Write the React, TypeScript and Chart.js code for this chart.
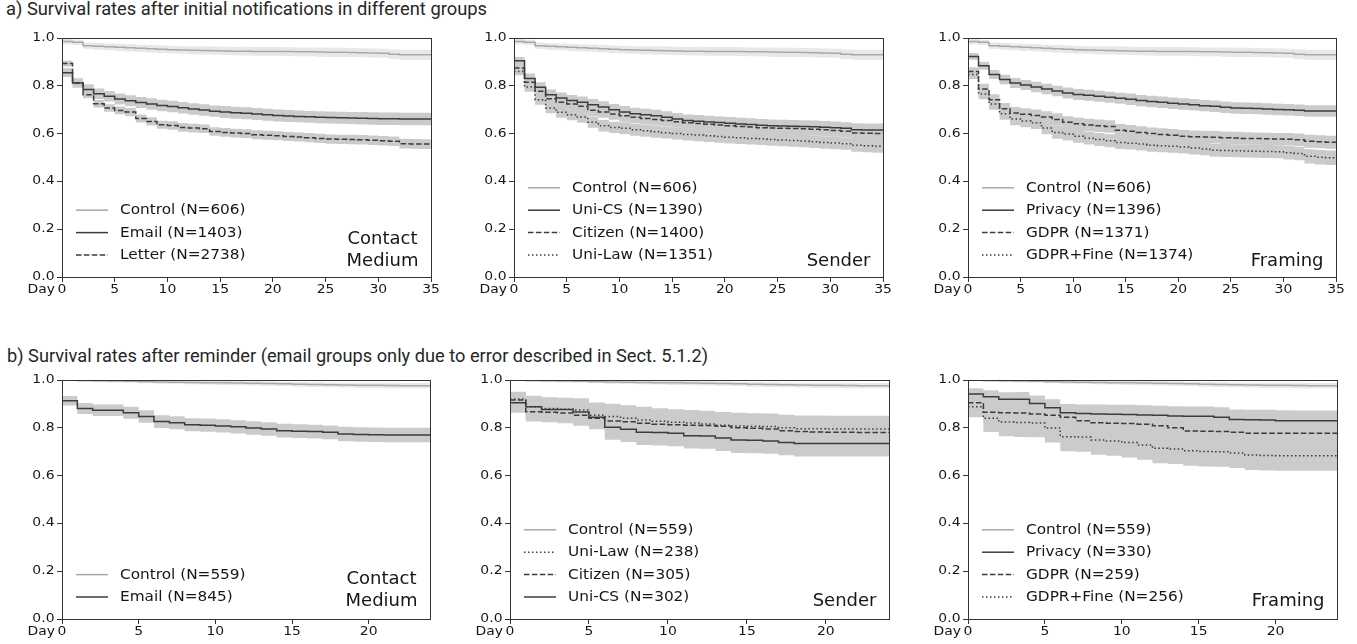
import React, { useEffect, useLayoutEffect, useRef } from "react";
import { Chart, registerables } from "chart.js";

Chart.register(...registerables);

// ---------------- data ----------------
const TITLE_A = "a) Survival rates after initial notifications in different groups";
const TITLE_B = "b) Survival rates after reminder (email groups only due to error described in Sect. 5.1.2)";

const DAYS_A = [0, 1, 2, 3, 4, 5, 6, 7, 8, 9, 10, 11, 12, 13, 14, 15, 16, 17, 18, 19, 20, 21, 22, 23, 24, 25, 26, 27, 28, 29, 30, 31, 32, 33, 34, 35];
const DAYS_B = [0, 1, 2, 3, 4, 5, 6, 7, 8, 9, 10, 11, 12, 13, 14, 15, 16, 17, 18, 19, 20, 21, 22, 23, 24];
const X_TICKS_A = [0, 5, 10, 15, 20, 25, 30, 35];
const X_TICKS_B = [0, 5, 10, 15, 20];
const Y_TICKS = [0, 0.2, 0.4, 0.6, 0.8, 1.0];
const X_UNIT = "Day";

// a) initial notifications (value per day, and half width of the confidence band)
const CONTROL_A = [0.985, 0.982, 0.968, 0.965, 0.963, 0.961, 0.959, 0.957, 0.955, 0.953, 0.951, 0.950, 0.949, 0.948, 0.947, 0.946, 0.945, 0.945, 0.944, 0.944, 0.944, 0.943, 0.942, 0.942, 0.941, 0.940, 0.940, 0.939, 0.938, 0.937, 0.936, 0.932, 0.930, 0.930, 0.930, 0.930];
const CI_CONTROL_A = [0.011, 0.011, 0.013, 0.014, 0.014, 0.015, 0.015, 0.015, 0.016, 0.016, 0.016, 0.016, 0.017, 0.017, 0.017, 0.017, 0.017, 0.018, 0.018, 0.018, 0.018, 0.018, 0.018, 0.018, 0.019, 0.019, 0.019, 0.019, 0.019, 0.019, 0.019, 0.020, 0.021, 0.021, 0.021, 0.021];

const EMAIL_A = [0.855, 0.812, 0.785, 0.767, 0.756, 0.745, 0.737, 0.730, 0.724, 0.718, 0.713, 0.708, 0.703, 0.699, 0.694, 0.690, 0.687, 0.685, 0.682, 0.679, 0.676, 0.674, 0.672, 0.670, 0.668, 0.667, 0.666, 0.665, 0.664, 0.663, 0.662, 0.662, 0.661, 0.661, 0.661, 0.661];
const CI_EMAIL_A = [0.018, 0.020, 0.021, 0.022, 0.022, 0.023, 0.023, 0.023, 0.024, 0.024, 0.024, 0.024, 0.024, 0.024, 0.024, 0.025, 0.025, 0.025, 0.025, 0.025, 0.025, 0.025, 0.025, 0.025, 0.025, 0.025, 0.025, 0.025, 0.026, 0.026, 0.026, 0.026, 0.026, 0.026, 0.026, 0.026];
const LETTER_A = [0.893, 0.812, 0.763, 0.725, 0.707, 0.697, 0.690, 0.663, 0.651, 0.637, 0.634, 0.626, 0.623, 0.620, 0.609, 0.605, 0.602, 0.600, 0.595, 0.593, 0.591, 0.588, 0.586, 0.583, 0.580, 0.577, 0.576, 0.575, 0.574, 0.572, 0.570, 0.568, 0.558, 0.557, 0.556, 0.556];
const CI_LETTER_A = [0.012, 0.014, 0.015, 0.016, 0.016, 0.016, 0.017, 0.017, 0.017, 0.017, 0.018, 0.018, 0.018, 0.018, 0.018, 0.018, 0.018, 0.018, 0.019, 0.019, 0.019, 0.019, 0.019, 0.019, 0.019, 0.019, 0.019, 0.020, 0.020, 0.020, 0.020, 0.020, 0.020, 0.020, 0.020, 0.020];

const UNICS_A = [0.905, 0.831, 0.794, 0.763, 0.749, 0.739, 0.731, 0.721, 0.711, 0.700, 0.690, 0.683, 0.679, 0.675, 0.668, 0.661, 0.655, 0.652, 0.649, 0.646, 0.643, 0.640, 0.638, 0.635, 0.633, 0.632, 0.631, 0.630, 0.629, 0.627, 0.625, 0.622, 0.616, 0.615, 0.615, 0.615];
const CITIZEN_A = [0.875, 0.815, 0.777, 0.746, 0.731, 0.724, 0.714, 0.698, 0.690, 0.682, 0.675, 0.668, 0.663, 0.659, 0.655, 0.650, 0.645, 0.642, 0.639, 0.636, 0.633, 0.630, 0.628, 0.625, 0.623, 0.622, 0.621, 0.620, 0.618, 0.616, 0.613, 0.610, 0.603, 0.601, 0.600, 0.600];
const UNILAW_A = [0.860, 0.795, 0.742, 0.707, 0.689, 0.679, 0.669, 0.648, 0.633, 0.626, 0.622, 0.616, 0.612, 0.608, 0.604, 0.600, 0.596, 0.594, 0.591, 0.588, 0.585, 0.583, 0.580, 0.578, 0.575, 0.573, 0.571, 0.569, 0.566, 0.563, 0.561, 0.558, 0.551, 0.549, 0.547, 0.547];
const CI_SENDER_A = [0.016, 0.020, 0.021, 0.022, 0.023, 0.023, 0.024, 0.024, 0.024, 0.024, 0.025, 0.025, 0.025, 0.025, 0.025, 0.025, 0.025, 0.026, 0.026, 0.026, 0.026, 0.026, 0.026, 0.026, 0.026, 0.026, 0.026, 0.026, 0.026, 0.026, 0.026, 0.026, 0.027, 0.027, 0.027, 0.027];

const PRIVACY_A = [0.923, 0.884, 0.847, 0.826, 0.812, 0.803, 0.795, 0.787, 0.778, 0.770, 0.764, 0.760, 0.756, 0.752, 0.748, 0.744, 0.738, 0.734, 0.731, 0.727, 0.724, 0.721, 0.717, 0.714, 0.710, 0.707, 0.706, 0.705, 0.703, 0.701, 0.700, 0.698, 0.695, 0.695, 0.695, 0.695];
const CI_PRIVACY_A = [0.014, 0.017, 0.019, 0.020, 0.021, 0.021, 0.022, 0.022, 0.022, 0.023, 0.023, 0.023, 0.023, 0.023, 0.023, 0.024, 0.024, 0.024, 0.024, 0.024, 0.024, 0.024, 0.024, 0.024, 0.024, 0.024, 0.024, 0.024, 0.024, 0.024, 0.024, 0.024, 0.024, 0.024, 0.024, 0.024];
const GDPR_A = [0.860, 0.787, 0.742, 0.704, 0.686, 0.681, 0.676, 0.669, 0.659, 0.647, 0.641, 0.636, 0.633, 0.630, 0.614, 0.610, 0.605, 0.600, 0.596, 0.593, 0.589, 0.587, 0.586, 0.585, 0.583, 0.582, 0.580, 0.579, 0.578, 0.577, 0.576, 0.574, 0.568, 0.566, 0.564, 0.563];
const CI_GDPR_A = [0.018, 0.022, 0.023, 0.024, 0.025, 0.025, 0.025, 0.025, 0.026, 0.026, 0.026, 0.026, 0.026, 0.026, 0.026, 0.026, 0.026, 0.026, 0.026, 0.026, 0.026, 0.026, 0.026, 0.026, 0.026, 0.026, 0.026, 0.026, 0.026, 0.026, 0.026, 0.026, 0.027, 0.027, 0.027, 0.027];
const FINE_A = [0.847, 0.766, 0.724, 0.683, 0.661, 0.653, 0.645, 0.623, 0.605, 0.598, 0.589, 0.581, 0.575, 0.570, 0.563, 0.560, 0.556, 0.551, 0.549, 0.547, 0.544, 0.540, 0.536, 0.530, 0.529, 0.528, 0.527, 0.526, 0.525, 0.524, 0.520, 0.517, 0.505, 0.501, 0.499, 0.499];
const CI_FINE_A = [0.019, 0.022, 0.024, 0.025, 0.026, 0.026, 0.026, 0.026, 0.027, 0.027, 0.027, 0.027, 0.027, 0.027, 0.027, 0.027, 0.027, 0.027, 0.027, 0.027, 0.027, 0.027, 0.027, 0.027, 0.027, 0.027, 0.027, 0.027, 0.027, 0.027, 0.028, 0.028, 0.030, 0.030, 0.030, 0.030];

// b) reminder
const CONTROL_B = [1.000, 0.998, 0.997, 0.996, 0.995, 0.993, 0.992, 0.991, 0.990, 0.989, 0.988, 0.987, 0.986, 0.985, 0.984, 0.982, 0.981, 0.980, 0.979, 0.978, 0.978, 0.977, 0.976, 0.976, 0.976];
const CI_CONTROL_B = [0.004, 0.005, 0.006, 0.006, 0.007, 0.007, 0.008, 0.008, 0.008, 0.008, 0.009, 0.009, 0.009, 0.009, 0.009, 0.010, 0.010, 0.010, 0.010, 0.011, 0.011, 0.011, 0.011, 0.011, 0.011];

const EMAIL_B = [0.913, 0.881, 0.873, 0.873, 0.863, 0.847, 0.826, 0.821, 0.813, 0.811, 0.808, 0.804, 0.799, 0.795, 0.788, 0.786, 0.784, 0.781, 0.774, 0.772, 0.771, 0.770, 0.770, 0.770, 0.770];
const CI_EMAIL_B = [0.020, 0.023, 0.024, 0.024, 0.025, 0.026, 0.027, 0.027, 0.027, 0.028, 0.028, 0.028, 0.028, 0.028, 0.029, 0.029, 0.029, 0.029, 0.030, 0.030, 0.030, 0.030, 0.030, 0.030, 0.030];

const UNICS_B = [0.905, 0.888, 0.877, 0.877, 0.866, 0.844, 0.802, 0.794, 0.781, 0.780, 0.777, 0.767, 0.766, 0.757, 0.749, 0.748, 0.745, 0.739, 0.734, 0.734, 0.734, 0.734, 0.734, 0.734, 0.734];
const CI_UNICS_B = [0.042, 0.046, 0.047, 0.048, 0.049, 0.050, 0.052, 0.053, 0.053, 0.054, 0.054, 0.054, 0.054, 0.054, 0.054, 0.054, 0.054, 0.054, 0.054, 0.054, 0.054, 0.054, 0.054, 0.054, 0.054];
const CITIZEN_B = [0.916, 0.867, 0.865, 0.862, 0.853, 0.840, 0.828, 0.825, 0.819, 0.815, 0.813, 0.811, 0.810, 0.806, 0.800, 0.798, 0.795, 0.788, 0.785, 0.782, 0.781, 0.781, 0.780, 0.780, 0.780];
const CI_CITIZEN_B = [0.033, 0.041, 0.042, 0.043, 0.044, 0.045, 0.046, 0.047, 0.047, 0.048, 0.048, 0.048, 0.048, 0.049, 0.049, 0.049, 0.049, 0.050, 0.050, 0.050, 0.050, 0.050, 0.050, 0.050, 0.050];
const UNILAW_B = [0.920, 0.888, 0.881, 0.878, 0.874, 0.853, 0.847, 0.840, 0.833, 0.827, 0.823, 0.820, 0.816, 0.811, 0.808, 0.806, 0.805, 0.800, 0.796, 0.796, 0.795, 0.795, 0.795, 0.795, 0.795];
const CI_UNILAW_B = [0.031, 0.045, 0.047, 0.048, 0.050, 0.053, 0.054, 0.054, 0.055, 0.055, 0.055, 0.055, 0.055, 0.055, 0.055, 0.055, 0.055, 0.055, 0.055, 0.055, 0.055, 0.055, 0.055, 0.055, 0.055];

const PRIVACY_B = [0.941, 0.930, 0.919, 0.919, 0.902, 0.884, 0.863, 0.860, 0.858, 0.857, 0.856, 0.854, 0.852, 0.849, 0.848, 0.848, 0.844, 0.835, 0.834, 0.833, 0.830, 0.829, 0.829, 0.829, 0.829];
const CI_PRIVACY_B = [0.024, 0.027, 0.030, 0.031, 0.033, 0.035, 0.037, 0.038, 0.039, 0.039, 0.040, 0.040, 0.040, 0.041, 0.041, 0.041, 0.042, 0.042, 0.042, 0.043, 0.043, 0.043, 0.043, 0.043, 0.043];
const GDPR_B = [0.905, 0.865, 0.863, 0.862, 0.858, 0.853, 0.844, 0.830, 0.821, 0.819, 0.818, 0.815, 0.809, 0.800, 0.787, 0.786, 0.785, 0.781, 0.777, 0.777, 0.777, 0.777, 0.777, 0.777, 0.777];
const CI_GDPR_B = [0.035, 0.043, 0.044, 0.045, 0.046, 0.047, 0.048, 0.049, 0.050, 0.050, 0.050, 0.051, 0.051, 0.052, 0.052, 0.052, 0.052, 0.053, 0.053, 0.053, 0.053, 0.053, 0.053, 0.053, 0.053];
const FINE_B = [0.888, 0.840, 0.824, 0.822, 0.820, 0.799, 0.763, 0.761, 0.749, 0.745, 0.738, 0.728, 0.714, 0.711, 0.704, 0.701, 0.700, 0.695, 0.686, 0.684, 0.683, 0.683, 0.683, 0.683, 0.683];
const CI_FINE_B = [0.044, 0.058, 0.059, 0.060, 0.060, 0.061, 0.061, 0.061, 0.062, 0.062, 0.062, 0.062, 0.062, 0.062, 0.063, 0.063, 0.063, 0.063, 0.063, 0.063, 0.063, 0.063, 0.063, 0.063, 0.063];

// ---------------- styles ----------------
type Style = "control" | "solid" | "dashed" | "dotted";
interface Series { label: string; values: number[]; ci: number[]; style: Style; }
interface PanelCfg {
  L: number; R: number; T: number; B: number;
  days: number[]; xMax: number; xTicks: number[];
  series: Series[]; tag: string[]; tagOff: number;
}

const AY_W = 50, AX_H = 26, PAD_T = 10, PAD_R = 16;
const AXIS = "#333333";
const TEXT = "#161616";
const LINE_CONTROL = "#a9a9a9";
const LINE_OTHER = "#3c3c3c";
const BAND_CONTROL = "#e8e8e8";
const BAND_OTHER = "#cbcbcb";
const DASH: Record<Style, number[]> = { control: [], solid: [], dashed: [5.5, 2.4], dotted: [1.5, 2.5] };
const TICK_FONT = "11.8px 'DejaVu Sans'";
const TICK_STRETCH = 1.18;
const LEGEND_FONT = "13.2px 'DejaVu Sans'";
const LEGEND_STRETCH = 1.16;
const TAG_FONT = "18px 'DejaVu Sans'";

const PANELS: PanelCfg[] = [
  { L: 62, R: 431, T: 38, B: 277, days: DAYS_A, xMax: 35, xTicks: X_TICKS_A, tag: ["Contact", "Medium"], tagOff: 15.5,
    series: [
      { label: "Control (N=606)", values: CONTROL_A, ci: CI_CONTROL_A, style: "control" },
      { label: "Email (N=1403)", values: EMAIL_A, ci: CI_EMAIL_A, style: "solid" },
      { label: "Letter (N=2738)", values: LETTER_A, ci: CI_LETTER_A, style: "dashed" },
    ] },
  { L: 514, R: 883, T: 38, B: 277, days: DAYS_A, xMax: 35, xTicks: X_TICKS_A, tag: ["Sender"], tagOff: 15.5,
    series: [
      { label: "Control (N=606)", values: CONTROL_A, ci: CI_CONTROL_A, style: "control" },
      { label: "Uni-CS (N=1390)", values: UNICS_A, ci: CI_SENDER_A, style: "solid" },
      { label: "Citizen (N=1400)", values: CITIZEN_A, ci: CI_SENDER_A, style: "dashed" },
      { label: "Uni-Law (N=1351)", values: UNILAW_A, ci: CI_SENDER_A, style: "dotted" },
    ] },
  { L: 968, R: 1336, T: 38, B: 277, days: DAYS_A, xMax: 35, xTicks: X_TICKS_A, tag: ["Framing"], tagOff: 15.5,
    series: [
      { label: "Control (N=606)", values: CONTROL_A, ci: CI_CONTROL_A, style: "control" },
      { label: "Privacy (N=1396)", values: PRIVACY_A, ci: CI_PRIVACY_A, style: "solid" },
      { label: "GDPR (N=1371)", values: GDPR_A, ci: CI_GDPR_A, style: "dashed" },
      { label: "GDPR+Fine (N=1374)", values: FINE_A, ci: CI_FINE_A, style: "dotted" },
    ] },
  { L: 62, R: 430, T: 380, B: 619, days: DAYS_B, xMax: 24, xTicks: X_TICKS_B, tag: ["Contact", "Medium"], tagOff: 17.3,
    series: [
      { label: "Control (N=559)", values: CONTROL_B, ci: CI_CONTROL_B, style: "control" },
      { label: "Email (N=845)", values: EMAIL_B, ci: CI_EMAIL_B, style: "solid" },
    ] },
  { L: 510, R: 889, T: 380, B: 619, days: DAYS_B, xMax: 24, xTicks: X_TICKS_B, tag: ["Sender"], tagOff: 17.3,
    series: [
      { label: "Control (N=559)", values: CONTROL_B, ci: CI_CONTROL_B, style: "control" },
      { label: "Uni-Law (N=238)", values: UNILAW_B, ci: CI_UNILAW_B, style: "dotted" },
      { label: "Citizen (N=305)", values: CITIZEN_B, ci: CI_CITIZEN_B, style: "dashed" },
      { label: "Uni-CS (N=302)", values: UNICS_B, ci: CI_UNICS_B, style: "solid" },
    ] },
  { L: 968, R: 1337, T: 380, B: 619, days: DAYS_B, xMax: 24, xTicks: X_TICKS_B, tag: ["Framing"], tagOff: 17.3,
    series: [
      { label: "Control (N=559)", values: CONTROL_B, ci: CI_CONTROL_B, style: "control" },
      { label: "Privacy (N=330)", values: PRIVACY_B, ci: CI_PRIVACY_B, style: "solid" },
      { label: "GDPR (N=259)", values: GDPR_B, ci: CI_GDPR_B, style: "dashed" },
      { label: "GDPR+Fine (N=256)", values: FINE_B, ci: CI_FINE_B, style: "dotted" },
    ] },
];

function alignPx(p: number) {
  return Math.round(p - 0.5) + 0.5;
}

function stretchText(ctx: CanvasRenderingContext2D, text: string, x: number, y: number, sx: number,
  align: CanvasTextAlign, baseline: CanvasTextBaseline) {
  ctx.save();
  ctx.translate(x, y);
  ctx.scale(sx, 1);
  ctx.textAlign = align;
  ctx.textBaseline = baseline;
  ctx.fillText(text, 0, 0);
  ctx.restore();
}

function Panel({ cfg }: { cfg: PanelCfg }) {
  const ref = useRef<HTMLCanvasElement>(null);
  const w = cfg.R - cfg.L + AY_W + PAD_R;
  const h = cfg.B - cfg.T + PAD_T + AX_H;

  useEffect(() => {
    const canvas = ref.current;
    if (!canvas) return;
    const datasets: any[] = [];
    cfg.series.forEach((s) => {
      const isC = s.style === "control";
      datasets.push({
        data: cfg.days.map((d, i) => ({ x: d, y: s.values[i] - s.ci[i] })),
        borderColor: "rgba(0,0,0,0)", borderWidth: 0, pointRadius: 0,
        fill: false, stepped: true, order: isC ? 40 : 30,
      });
      datasets.push({
        data: cfg.days.map((d, i) => ({ x: d, y: s.values[i] + s.ci[i] })),
        borderColor: "rgba(0,0,0,0)", borderWidth: 0, pointRadius: 0,
        fill: "-1", backgroundColor: isC ? BAND_CONTROL : BAND_OTHER,
        stepped: true, order: isC ? 40 : 30,
      });
    });
    cfg.series.forEach((s) => {
      const isC = s.style === "control";
      datasets.push({
        data: cfg.days.map((d, i) => ({ x: d, y: s.values[i] })),
        borderColor: isC ? LINE_CONTROL : LINE_OTHER,
        borderWidth: 1.5, borderDash: DASH[s.style], borderCapStyle: "butt",
        pointRadius: 0, fill: false, stepped: true, order: isC ? 10 : 1,
      });
    });

    const decor = {
      id: "decor",
      afterDraw(chart: any) {
        const { ctx, chartArea } = chart;
        const { left, right, top, bottom } = chartArea;
        const xs = chart.scales.x, ys = chart.scales.y;
        ctx.save();
        // frame
        ctx.strokeStyle = AXIS;
        ctx.lineWidth = 1;
        ctx.setLineDash([]);
        const x0 = alignPx(left), x1 = alignPx(right), y0 = alignPx(top), y1 = alignPx(bottom);
        ctx.strokeRect(x0, y0, x1 - x0, y1 - y0);

        // tick labels (horizontally stretched, like the source figure)
        ctx.fillStyle = TEXT;
        ctx.font = TICK_FONT;
        ys.ticks.forEach((t: any) => {
          stretchText(ctx, Number(t.value).toFixed(1), left - 7.5, ys.getPixelForValue(t.value), TICK_STRETCH, "right", "middle");
        });
        xs.ticks.forEach((t: any) => {
          stretchText(ctx, String(t.value), xs.getPixelForValue(t.value), bottom + 7, TICK_STRETCH, "center", "top");
        });
        stretchText(ctx, X_UNIT, left - 7, bottom + 7, TICK_STRETCH, "right", "top");

        // legend
        const n = cfg.series.length;
        cfg.series.forEach((s, i) => {
          const y = bottom - 22 - (n - 1 - i) * 22.4;
          ctx.beginPath();
          ctx.setLineDash(DASH[s.style]);
          ctx.strokeStyle = s.style === "control" ? LINE_CONTROL : LINE_OTHER;
          ctx.lineWidth = 1.5;
          ctx.moveTo(left + 14, y);
          ctx.lineTo(left + 46, y);
          ctx.stroke();
          ctx.setLineDash([]);
          ctx.fillStyle = TEXT;
          ctx.font = LEGEND_FONT;
          stretchText(ctx, s.label, left + 58, y + 0.5, LEGEND_STRETCH, "left", "middle");
        });

        // tag text
        ctx.font = TAG_FONT;
        ctx.fillStyle = TEXT;
        ctx.textAlign = "center";
        ctx.textBaseline = "middle";
        const maxW = Math.max(...cfg.tag.map((t) => ctx.measureText(t).width));
        const cx = right - 12.5 - maxW / 2;
        cfg.tag.forEach((t, i) => {
          const y = bottom - cfg.tagOff - (cfg.tag.length - 1 - i) * 22.5;
          ctx.fillText(t, cx, y);
        });
        ctx.restore();
      },
    };

    const chart = new Chart(canvas, {
      type: "line",
      data: { datasets },
      options: {
        animation: false,
        responsive: false,
        maintainAspectRatio: false,
        events: [],
        layout: { padding: { left: 0, top: PAD_T, right: PAD_R, bottom: 0 } },
        plugins: { legend: { display: false }, tooltip: { enabled: false } },
        scales: {
          x: {
            type: "linear", min: 0, max: cfg.xMax,
            afterBuildTicks: (s: any) => { s.ticks = cfg.xTicks.map((v) => ({ value: v })); },
            afterFit: (s: any) => { s.height = AX_H; },
            ticks: { display: false },
            grid: { drawOnChartArea: false, drawTicks: true, tickLength: 5, tickColor: AXIS, tickWidth: 1, color: AXIS },
            border: { display: true, color: AXIS, width: 1 },
          },
          y: {
            type: "linear", min: 0, max: 1,
            afterBuildTicks: (s: any) => { s.ticks = Y_TICKS.map((v) => ({ value: v })); },
            afterFit: (s: any) => { s.width = AY_W; },
            ticks: { display: false },
            grid: { drawOnChartArea: false, drawTicks: true, tickLength: 5, tickColor: AXIS, tickWidth: 1, color: AXIS },
            border: { display: true, color: AXIS, width: 1 },
          },
        },
      } as any,
      plugins: [decor],
    });
    return () => chart.destroy();
  }, [cfg]);

  return (
    <canvas
      ref={ref}
      width={w}
      height={h}
      style={{ position: "absolute", left: cfg.L - AY_W, top: cfg.T - PAD_T, width: w, height: h }}
    />
  );
}

function Title({ text, left, top, width }: { text: string; left: number; top: number; width: number }) {
  const ref = useRef<HTMLSpanElement>(null);
  useLayoutEffect(() => {
    const fit = () => {
      const el = ref.current;
      if (!el) return;
      el.style.transform = "none";
      const natural = el.getBoundingClientRect().width;
      if (natural > 0) el.style.transform = `scaleX(${width / natural})`;
    };
    fit();
    if ((document as any).fonts && (document as any).fonts.ready) {
      (document as any).fonts.ready.then(fit);
    }
  }, [width]);
  return (
    <span
      ref={ref}
      style={{
        position: "absolute", left, top, display: "inline-block",
        fontFamily: "Roboto, sans-serif", fontSize: "17.5px", lineHeight: "20px",
        whiteSpace: "nowrap", color: "#262626", transformOrigin: "0 0",
      }}
    >
      {text}
    </span>
  );
}

export default function App() {
  return (
    <div style={{ position: "absolute", left: 0, top: 0, width: 1357, height: 644, background: "#fff", overflow: "hidden" }}>
      <Title text={TITLE_A} left={6} top={-1} width={481} />
      <Title text={TITLE_B} left={7} top={346} width={701} />
      {PANELS.map((p, i) => (
        <Panel key={i} cfg={p} />
      ))}
    </div>
  );
}
